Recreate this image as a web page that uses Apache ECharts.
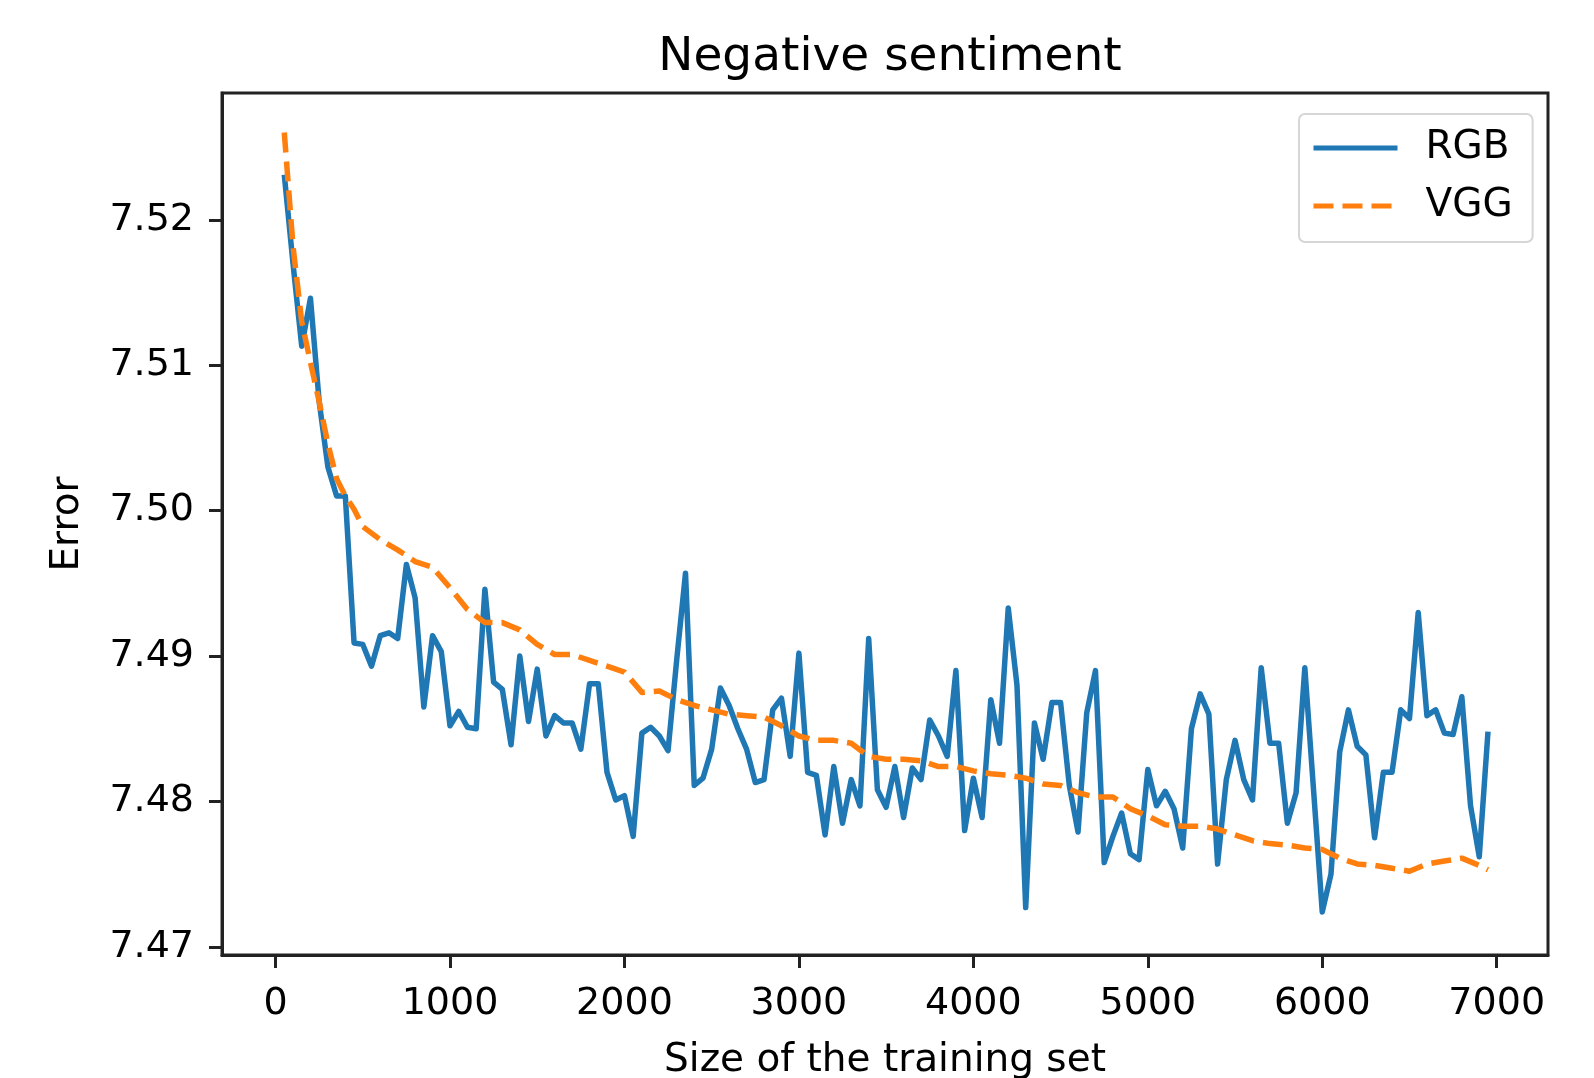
<!DOCTYPE html>
<html>
<head>
<meta charset="utf-8">
<title>Negative sentiment</title>
<script src="https://cdn.jsdelivr.net/npm/echarts@6/dist/echarts.min.js"></script>
<style>
    html, body { margin: 0; padding: 0; background: #fff; }
    #echarts { width: 1594px; height: 1078px; }
</style>
</head>
<body>
<div id="echarts"></div>
<script>
// training set sizes (x) for the RGB run
var sizes = [50, 100, 150, 200, 250, 300, 350, 400, 450, 500, 550, 600, 650, 700, 750, 800, 850, 900, 950,
    1000, 1050, 1100, 1150, 1200, 1250, 1300, 1350, 1400, 1450, 1500, 1550, 1600, 1650, 1700, 1750, 1800, 1850, 1900, 1950,
    2000, 2050, 2100, 2150, 2200, 2250, 2300, 2350, 2400, 2450, 2500, 2550, 2600, 2650, 2700, 2750, 2800, 2850, 2900, 2950,
    3000, 3050, 3100, 3150, 3200, 3250, 3300, 3350, 3400, 3450, 3500, 3550, 3600, 3650, 3700, 3750, 3800, 3850, 3900, 3950,
    4000, 4050, 4100, 4150, 4200, 4250, 4300, 4350, 4400, 4450, 4500, 4550, 4600, 4650, 4700, 4750, 4800, 4850, 4900, 4950,
    5000, 5050, 5100, 5150, 5200, 5250, 5300, 5350, 5400, 5450, 5500, 5550, 5600, 5650, 5700, 5750, 5800, 5850, 5900, 5950,
    6000, 6050, 6100, 6150, 6200, 6250, 6300, 6350, 6400, 6450, 6500, 6550, 6600, 6650, 6700, 6750, 6800, 6850, 6900, 6950];

var rgbError = [7.5231, 7.5170, 7.5113, 7.5146, 7.5075, 7.5030, 7.5010, 7.5010, 7.4909, 7.4908, 7.4893, 7.4914, 7.4916, 7.4912, 7.4963, 7.4940, 7.4865, 7.4914, 7.4903,
    7.4852, 7.4862, 7.4851, 7.4850, 7.4946, 7.4882, 7.4877, 7.4839, 7.4900, 7.4855, 7.4891, 7.4845, 7.4859, 7.4854, 7.4854, 7.4836, 7.4881, 7.4881, 7.4820, 7.4801,
    7.4804, 7.4776, 7.4847, 7.4851, 7.4845, 7.4835, 7.4898, 7.4957, 7.4811, 7.4816, 7.4836, 7.4878, 7.4866, 7.4850, 7.4836, 7.4813, 7.4815, 7.4863, 7.4871, 7.4831,
    7.4902, 7.4820, 7.4818, 7.4777, 7.4824, 7.4785, 7.4815, 7.4797, 7.4912, 7.4808, 7.4796, 7.4824, 7.4789, 7.4823, 7.4815, 7.4856, 7.4845, 7.4831, 7.4890, 7.4780,
    7.4816, 7.4789, 7.4870, 7.4840, 7.4933, 7.4880, 7.4727, 7.4854, 7.4829, 7.4868, 7.4868, 7.4811, 7.4779, 7.4861, 7.4890, 7.4758, 7.4776, 7.4792, 7.4764, 7.4760,
    7.4822, 7.4797, 7.4807, 7.4795, 7.4768, 7.4850, 7.4874, 7.4860, 7.4757, 7.4815, 7.4842, 7.4815, 7.4801, 7.4892, 7.4840, 7.4840, 7.4785, 7.4806, 7.4892, 7.4808,
    7.4724, 7.4750, 7.4834, 7.4863, 7.4838, 7.4832, 7.4775, 7.4820, 7.4820, 7.4863, 7.4857, 7.4930, 7.4859, 7.4863, 7.4847, 7.4846, 7.4872, 7.4797, 7.4762, 7.4848];

// VGG is smooth, read at a coarser step
var vggSizes = [50, 100, 150, 200, 250, 300, 350, 400, 450, 500, 600, 700, 800, 900,
    1000, 1100, 1200, 1300, 1400, 1500, 1600, 1700, 1800, 1900,
    2000, 2100, 2200, 2300, 2400, 2500, 2600, 2700, 2800, 2900,
    3000, 3100, 3200, 3300, 3400, 3500, 3600, 3700, 3800, 3900,
    4000, 4100, 4200, 4300, 4400, 4500, 4600, 4700, 4800, 4900,
    5000, 5100, 5200, 5300, 5400, 5500, 5600, 5700, 5800, 5900,
    6000, 6100, 6200, 6300, 6400, 6500, 6600, 6700, 6800, 6900, 6950];

var vggError = [7.5260, 7.5182, 7.5130, 7.5102, 7.5075, 7.5046, 7.5022, 7.5010, 7.5001, 7.4989, 7.4980, 7.4973, 7.4965, 7.4961,
    7.4947, 7.4932, 7.4923, 7.4923, 7.4918, 7.4908, 7.4901, 7.4901, 7.4897, 7.4893,
    7.4889, 7.4875, 7.4876, 7.4870, 7.4866, 7.4863, 7.4860, 7.4859, 7.4858, 7.4852,
    7.4845, 7.4842, 7.4842, 7.4840, 7.4831, 7.4829, 7.4829, 7.4828, 7.4824, 7.4824,
    7.4821, 7.4819, 7.4818, 7.4816, 7.4812, 7.4811, 7.4806, 7.4803, 7.4803, 7.4795,
    7.4790, 7.4784, 7.4783, 7.4783, 7.4781, 7.4777, 7.4773, 7.4771, 7.4770, 7.4768,
    7.4767, 7.4761, 7.4757, 7.4756, 7.4754, 7.4752, 7.4757, 7.4759, 7.4761, 7.4756, 7.4753];

var xTicks = [0, 1000, 2000, 3000, 4000, 5000, 6000, 7000];
var yTicks = [7.47, 7.48, 7.49, 7.50, 7.51, 7.52];

var font = 'DejaVu Sans';

function pairs(xs, ys) {
    var out = [];
    for (var i = 0; i < xs.length; i++) {
        out.push([xs[i], ys[i]]);
    }
    return out;
}

var chart = echarts.init(document.getElementById('echarts'));
var option = {
    animation: false,
    backgroundColor: '#fff',
    title: {
        text: 'Negative sentiment',
        left: 885,
        textAlign: 'center',
        top: 29,
        textStyle: { fontFamily: font, fontSize: 47, fontWeight: 'normal', color: '#000' }
    },
    grid: {
        left: 222,
        top: 93,
        width: 1326,
        height: 862,
        outerBoundsMode: 'none',
        containLabel: false,
        show: true,
        borderColor: '#222',
        borderWidth: 3,
        backgroundColor: '#fff'
    },
    legend: {
        orient: 'vertical',
        left: 1299,
        top: 114,
        align: 'left',
        itemWidth: 84,
        itemHeight: 14,
        itemGap: 18,
        padding: [14, 20, 16, 12],
        backgroundColor: '#fff',
        borderColor: '#d6d6d6',
        borderWidth: 2,
        borderRadius: 6,
        itemStyle: { opacity: 0 },
        lineStyle: { width: 5 },
        textStyle: {
            fontFamily: font,
            fontSize: 39,
            lineHeight: 40,
            color: '#000',
            padding: [0, 0, 0, 23]
        },
        data: ['RGB', 'VGG']
    },
    xAxis: {
        type: 'value',
        min: -307,
        max: 7294,
        name: 'Size of the training set',
        nameLocation: 'middle',
        nameGap: 86,
        nameTextStyle: { fontFamily: font, fontSize: 39, color: '#000', verticalAlign: 'top' },
        axisLine: { show: true, onZero: false, lineStyle: { color: '#222', width: 3 } },
        axisTick: { show: true, length: 13, lineStyle: { color: '#222', width: 3 }, customValues: xTicks },
        axisLabel: {
            customValues: xTicks,
            fontFamily: font,
            fontSize: 38,
            color: '#000',
            margin: 30,
            formatter: function (v) { return String(v); }
        },
        splitLine: { show: false }
    },
    yAxis: {
        type: 'value',
        min: 7.46944,
        max: 7.52872,
        name: 'Error',
        nameLocation: 'middle',
        nameRotate: 90,
        nameGap: 135,
        nameTextStyle: { fontFamily: font, fontSize: 39, color: '#000' },
        axisLine: { show: true, onZero: false, lineStyle: { color: '#222', width: 3 } },
        axisTick: { show: true, length: 13, lineStyle: { color: '#222', width: 3 }, customValues: yTicks },
        axisLabel: {
            customValues: yTicks,
            fontFamily: font,
            fontSize: 38,
            color: '#000',
            margin: 28,
            formatter: function (v) { return v.toFixed(2); }
        },
        splitLine: { show: false }
    },
    series: [
        {
            name: 'RGB',
            type: 'line',
            data: pairs(sizes, rgbError),
            symbol: 'none',
            itemStyle: { color: '#1f77b4' },
            lineStyle: { color: '#1f77b4', width: 5.5, join: 'round' }
        },
        {
            name: 'VGG',
            type: 'line',
            data: pairs(vggSizes, vggError),
            symbol: 'none',
            itemStyle: { color: '#ff7f0e' },
            lineStyle: { color: '#ff7f0e', width: 5.5, type: [20, 9], join: 'round' }
        }
    ]
};
chart.setOption(option);
</script>
</body>
</html>
